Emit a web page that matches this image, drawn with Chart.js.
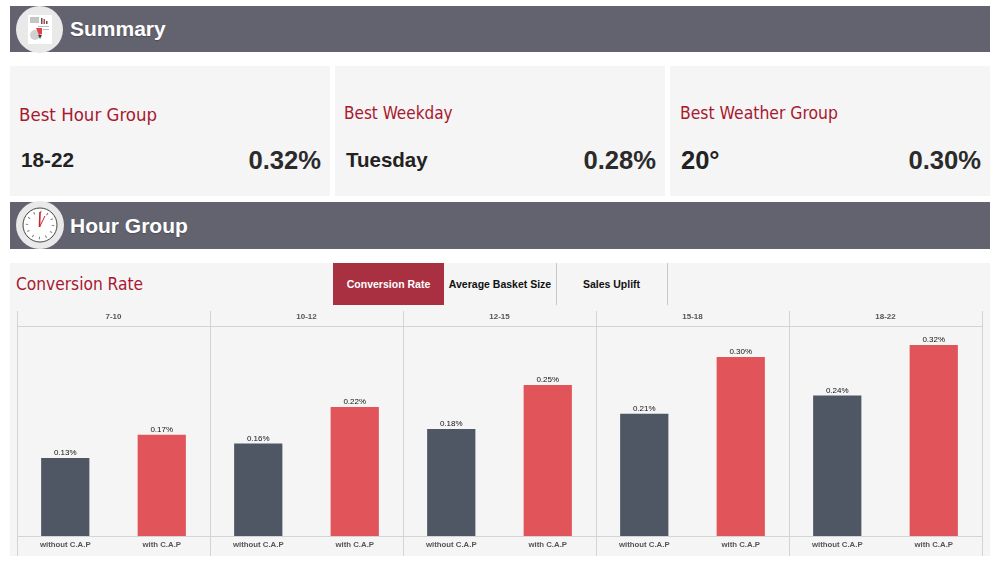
<!DOCTYPE html>
<html>
<head>
<meta charset="utf-8">
<title>Summary</title>
<script src="https://cdn.jsdelivr.net/npm/chart.js@4"></script>
<style>
html, body { margin: 0; padding: 0; background: #fff; }
body { width: 1000px; height: 563px; position: relative; overflow: hidden; font-family: "Liberation Sans", Arial, sans-serif; }
.abs { position: absolute; white-space: nowrap; }
.banner { position: absolute; left: 10px; width: 980px; background: #63636f; }
.banner-title { position: absolute; left: 70px; color: #fff; font-weight: bold; font-size: 21px; text-shadow: 0 1px 1px rgba(0,0,0,.25); }
.badge { position: absolute; left: 16px; border-radius: 50%; background: #e9e9e9; }
.card { position: absolute; top: 66px; height: 130px; background: #f5f5f5; }
.card-title { color: #a8182f; font-family: "DejaVu Sans Condensed", "DejaVu Sans", sans-serif; font-stretch: condensed; }
.card-name { color: #222; font-weight: bold; line-height: 30px; }
.card-value { color: #2b2b2b; font-weight: bold; font-size: 25.6px; line-height: 30px; }
#panel { position: absolute; left: 10px; top: 263px; width: 980px; height: 293px; background: #f5f5f5; }
.tab { position: absolute; top: 263px; height: 42px; line-height: 42px; text-align: center; font-size: 10.5px; font-weight: bold; color: #111; }
.tab.active { background: #a93041; color: #fff; }
.tab-line { position: absolute; top: 263px; width: 1px; height: 42px; background: #c8c8c8; }
#chart { position: absolute; left: 10px; top: 311px; }
</style>
</head>
<body>
<div class="banner" style="top:6px;height:46px"></div>
<div class="banner" style="top:202px;height:47px"></div>

<div class="badge" style="top:6px;width:47px;height:47px"></div>
<svg class="abs" style="left:28px;top:15px" width="24" height="29" viewBox="0 0 24 29">
  <rect width="24" height="29" fill="#fff"/>
  <rect x="2" y="2" width="9" height="6" fill="#c4c4c4"/>
  <rect x="13" y="3" width="1.5" height="6" fill="#555"/>
  <rect x="15.5" y="4" width="1.5" height="5" fill="#d03a44"/>
  <rect x="18" y="6" width="1.5" height="3" fill="#555"/>
  <circle cx="7" cy="20" r="5" fill="#d0d0d0"/>
  <path d="M8 13 L14 13 L14 19 L11 20 Z" fill="#e0404a"/>
  <rect x="10" y="11" width="11" height="1" fill="#bbb"/>
  <rect x="15" y="14" width="6" height="1" fill="#bbb"/>
  <path d="M10 20 L14 20 L12 24 Z" fill="#444"/>
</svg>
<div class="banner-title" style="top:17px">Summary</div>

<div class="badge" style="top:201px;width:48px;height:48px"></div>
<svg class="abs" style="left:22px;top:207px" width="36" height="36" viewBox="0 0 36 36">
  <circle cx="18" cy="18" r="17" fill="#fff" stroke="#444" stroke-width="1"/>
  <circle cx="18" cy="18" r="13" fill="none" stroke="#777" stroke-width="2.5" stroke-dasharray="1 5.8"/>
  <path d="M17.5 20 L18 5" stroke="#c8242f" stroke-width="1.6"/>
  <path d="M17.5 20 L23 9" stroke="#c8242f" stroke-width="1"/>
</svg>
<div class="banner-title" style="top:214px">Hour Group</div>

<div id="cards"></div>

<div id="panel"></div>
<div class="abs card-title" style="left:16px;top:274px;font-size:17.2px" id="panelTitle"></div>
<div id="tabs"></div>
<canvas id="chart" width="980" height="245"></canvas>

<script>
// values, the bar heights give one more digit than the printed labels
const groups = ['7-10', '10-12', '12-15', '15-18', '18-22'];
const categories = ['without C.A.P', 'with C.A.P', 'without C.A.P', 'with C.A.P', 'without C.A.P',
    'with C.A.P', 'without C.A.P', 'with C.A.P', 'without C.A.P', 'with C.A.P'];
const conversionRate = [0.131, 0.170, 0.1555, 0.217, 0.180, 0.254, 0.2055, 0.301, 0.236, 0.321];
const barColors = ['#505764', '#e1555a'];

const cardTitles = ['Best Hour Group', 'Best Weekday', 'Best Weather Group'];
const cardNames = ['18-22', 'Tuesday', '20°'];
const cardValues = ['0.32%', '0.28%', '0.30%'];
const tabNames = ['Conversion Rate', 'Average Basket Size', 'Sales Uplift'];

const gridColor = '#d4d4d4';

function buildPage() {
    const cardBoxes = [[10, 320, 19, 21], [335, 330, 344, 346], [670, 320, 680, 681]];
    const titleTops = [104, 103, 103];
    const titleSizes = [18.5, 17, 17.4];
    const nameSizes = [20.7, 20.5, 25.5];
    const cards = document.getElementById('cards');
    cards.innerHTML = cardTitles.map((title, i) => {
        const [left, width, titleLeft, nameLeft] = cardBoxes[i];
        return `
            <div class="card" style="left:${left}px;width:${width}px"></div>
            <div class="abs card-title" style="left:${titleLeft}px;top:${titleTops[i]}px;font-size:${titleSizes[i]}px">${title}</div>
            <div class="abs card-name" style="left:${nameLeft}px;top:145px;font-size:${nameSizes[i]}px">${cardNames[i]}</div>
            <div class="abs card-value" style="right:${1000 - left - width + 9}px;top:145px">${cardValues[i]}</div>`;
    }).join('');

    document.getElementById('panelTitle').textContent = 'Conversion Rate';

    const tabBoxes = [[333, 111], [444, 112], [556, 111]];
    document.getElementById('tabs').innerHTML = tabNames.map((name, i) => `
        <div class="tab ${i === 0 ? 'active' : ''}" style="left:${tabBoxes[i][0]}px;width:${tabBoxes[i][1]}px">${name}</div>
    `).join('') + '<div class="tab-line" style="left:556px"></div><div class="tab-line" style="left:667px"></div>';
}

// prints the value over each bar
const valueLabels = {
    id: 'valueLabels',
    afterDatasetsDraw(chart) {
        const ctx = chart.ctx;
        const meta = chart.getDatasetMeta(0);
        ctx.save();
        ctx.font = '8px "Liberation Sans", Arial, sans-serif';
        ctx.fillStyle = '#111';
        ctx.textAlign = 'center';
        ctx.textBaseline = 'bottom';
        meta.data.forEach((bar, i) => {
            ctx.fillText(conversionRate[i].toFixed(2) + '%', bar.x, bar.y - 1);
        });
        ctx.restore();
    }
};

function initChart() {
    const ctx = document.getElementById('chart').getContext('2d');
    new Chart(ctx, {
        type: 'bar',
        data: {
            labels: categories,
            datasets: [{
                data: conversionRate,
                backgroundColor: categories.map((c, i) => barColors[i % 2]),
                barPercentage: 0.5,
                categoryPercentage: 1
            }]
        },
        options: {
            responsive: false,
            animation: false,
            layout: { padding: { left: 7, right: 8, top: 0, bottom: 0 } },
            plugins: { legend: { display: false }, tooltip: { enabled: false } },
            scales: {
                x: {
                    position: 'bottom',
                    afterFit: scale => { scale.height = 20; },
                    border: { color: gridColor },
                    grid: {
                        offset: true,
                        drawOnChartArea: false,
                        tickLength: 20,
                        tickColor: c => (c.index === undefined || c.index % 2 === 0) ? gridColor : 'transparent'
                    },
                    ticks: {
                        autoSkip: false,
                        maxRotation: 0,
                        padding: -16,
                        color: '#555',
                        font: { size: 7.8, weight: 'bold', family: '"Liberation Sans", Arial, sans-serif' }
                    }
                },
                groups: {
                    type: 'category',
                    labels: groups,
                    position: 'top',
                    offset: true,
                    afterFit: scale => { scale.height = 15; },
                    border: { color: gridColor },
                    grid: { offset: true, color: gridColor, tickColor: gridColor, tickLength: 15 },
                    ticks: {
                        autoSkip: false,
                        maxRotation: 0,
                        padding: -11,
                        color: '#555',
                        font: { size: 8, weight: 'bold', family: '"Liberation Sans", Arial, sans-serif' }
                    }
                },
                y: {
                    display: false,
                    min: 0,
                    max: 0.353
                }
            }
        },
        plugins: [valueLabels]
    });
}

buildPage();
initChart();
</script>
</body>
</html>
